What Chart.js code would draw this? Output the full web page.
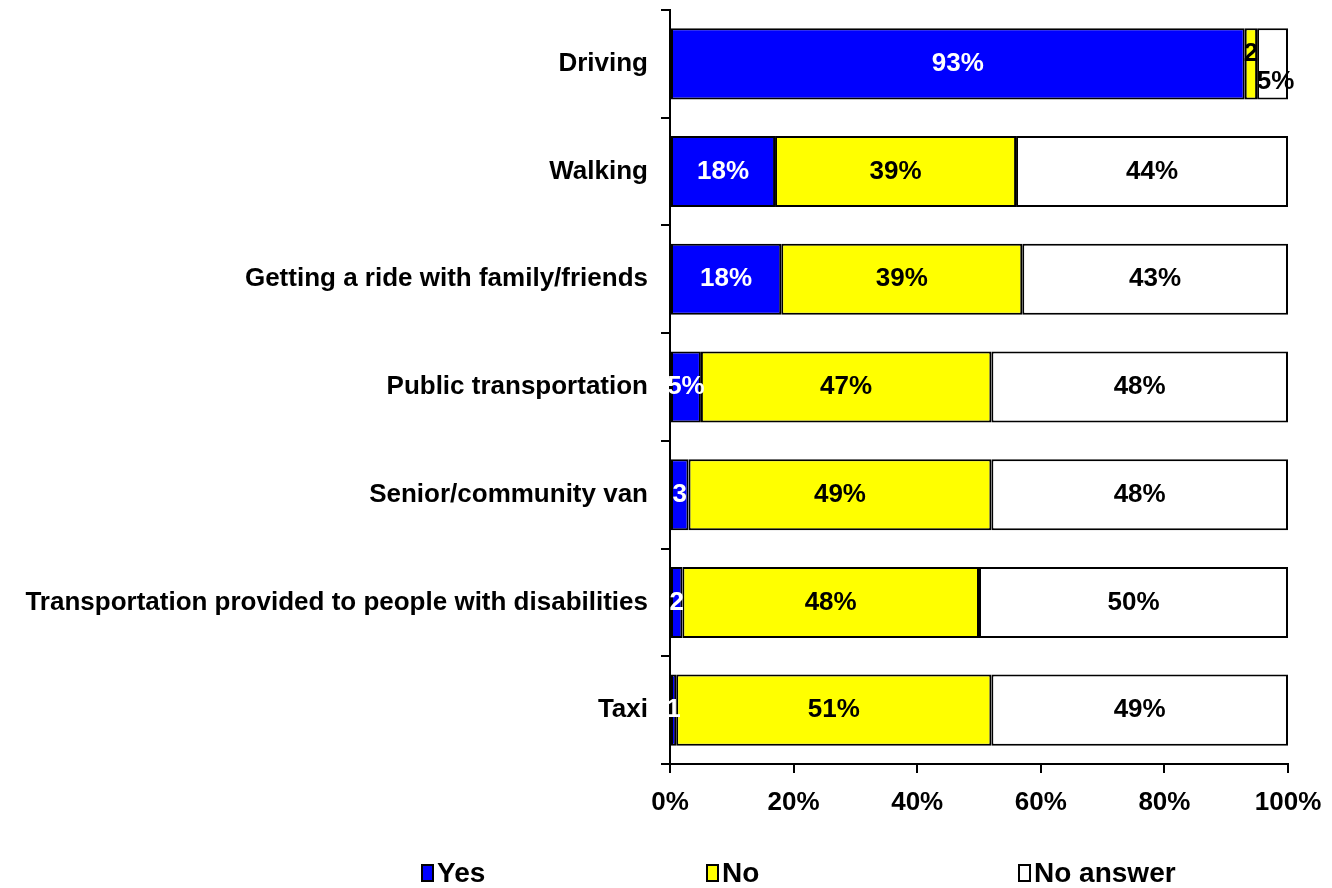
<!DOCTYPE html>
<html>
<head>
<meta charset="utf-8">
<script src="https://cdn.jsdelivr.net/npm/chart.js@4.4.1/dist/chart.umd.min.js"></script>
<style>
  body { margin: 0; background: #fff; }
  #wrap { position: relative; width: 1332px; height: 888px; }
  #legend { position: absolute; left: 0; top: 0; width: 1332px; height: 888px; pointer-events: none; }
  .item { position: absolute; top: 857px; display: flex; align-items: center;
          font: bold 28px Arial, "Liberation Sans", sans-serif; color: #000; }
  .box { display: inline-block; width: 13px; height: 18px; box-sizing: border-box;
         border: 2px solid #000; margin-right: 3px; }
</style>
</head>
<body>
<div id="wrap">
  <canvas id="chart" width="1332" height="888"></canvas>
  <div id="legend"></div>
</div>
<script>
const categories = [
  'Driving',
  'Walking',
  'Getting a ride with family/friends',
  'Public transportation',
  'Senior/community van',
  'Transportation provided to people with disabilities',
  'Taxi'
];
const seriesNames = ['Yes', 'No', 'No answer'];
const yesValues = [93, 17, 18, 5, 3, 2, 1];
const noValues = [2, 39, 39, 47, 49, 48, 51];
const noAnswerValues = [5, 44, 43, 48, 48, 50, 48];
// label texts as printed on the bars (narrow ones are cut off in the original)
const yesLabels = ['93%', '18%', '18%', '5%', '3', '2', '1'];
const noLabels = ['2', '39%', '39%', '47%', '49%', '48%', '51%'];
const noAnswerLabels = ['5%', '44%', '43%', '48%', '48%', '50%', '49%'];
const xTicks = [0, 20, 40, 60, 80, 100];

const colors = ['#0000ff', '#ffff00', '#ffffff'];
const labelColors = ['#ffffff', '#000000', '#000000'];
const FONT = 'Arial, "Liberation Sans", sans-serif';

const barLabels = {
  id: 'barLabels',
  afterDatasetsDraw(chart) {
    const ctx = chart.ctx;
    const texts = [yesLabels, noLabels, noAnswerLabels];
    ctx.save();
    ctx.font = 'bold 26px ' + FONT;
    ctx.textAlign = 'center';
    ctx.textBaseline = 'middle';
    categories.forEach((c, i) => {
      const bars = chart.data.datasets.map((d, k) => chart.getDatasetMeta(k).data[i]);
      const narrow = bars.map((b, k) => Math.abs(b.x - b.base) < ctx.measureText(texts[k][i]).width);
      bars.forEach((b, k) => {
        let dy = 0;
        // two cramped labels side by side: Excel nudged them up and down
        if (narrow[1] && narrow[2]) {
          if (k === 1) dy = -10;
          if (k === 2) dy = 18;
        }
        ctx.fillStyle = labelColors[k];
        ctx.fillText(texts[k][i], (b.x + b.base) / 2 + (k === 2 && narrow[2] ? 3 : 0), b.y + dy);
      });
    });
    ctx.restore();
  }
};

const ctx = document.getElementById('chart').getContext('2d');
new Chart(ctx, {
  type: 'bar',
  data: {
    labels: categories,
    datasets: [yesValues, noValues, noAnswerValues].map((vals, k) => ({
      label: seriesNames[k],
      data: vals,
      backgroundColor: colors[k],
      borderColor: '#000',
      borderWidth: 2,
      borderSkipped: false,
      barPercentage: 0.66,
      categoryPercentage: 1
    }))
  },
  options: {
    indexAxis: 'y',
    responsive: false,
    animation: false,
    devicePixelRatio: 1,
    layout: { padding: { top: 10, left: 0, right: 44, bottom: 64 } },
    plugins: {
      legend: { display: false },
      tooltip: { enabled: false }
    },
    scales: {
      x: {
        stacked: true,
        min: 0,
        max: 100,
        afterBuildTicks: (scale) => { scale.ticks = xTicks.map(v => ({ value: v })); },
        afterFit: (scale) => {
          scale.height = 60;
          scale.paddingLeft = 0;
          scale.paddingRight = 0;
        },
        ticks: {
          callback: (v) => v + '%',
          color: '#000',
          padding: 14,
          font: { family: FONT, size: 26, weight: 'bold' }
        },
        grid: { drawOnChartArea: false, drawTicks: true, tickLength: 9, color: '#000', lineWidth: 2 },
        border: { display: true, color: '#000', width: 2 }
      },
      y: {
        stacked: true,
        afterFit: (scale) => {
          scale.width = 670;
          scale.paddingTop = 0;
          scale.paddingBottom = 0;
        },
        ticks: {
          color: '#000',
          padding: 13,
          font: { family: FONT, size: 26, weight: 'bold' }
        },
        grid: { drawOnChartArea: false, drawTicks: true, tickLength: 9, color: '#000', lineWidth: 2, offset: true },
        border: { display: true, color: '#000', width: 2 }
      }
    }
  },
  plugins: [barLabels]
});

// legend built from the series names
const legendX = [421, 706, 1018];
const legend = document.getElementById('legend');
seriesNames.forEach((name, k) => {
  const item = document.createElement('div');
  item.className = 'item';
  item.style.left = legendX[k] + 'px';
  const box = document.createElement('span');
  box.className = 'box';
  box.style.background = colors[k];
  item.appendChild(box);
  item.appendChild(document.createTextNode(name));
  legend.appendChild(item);
});
</script>
</body>
</html>
